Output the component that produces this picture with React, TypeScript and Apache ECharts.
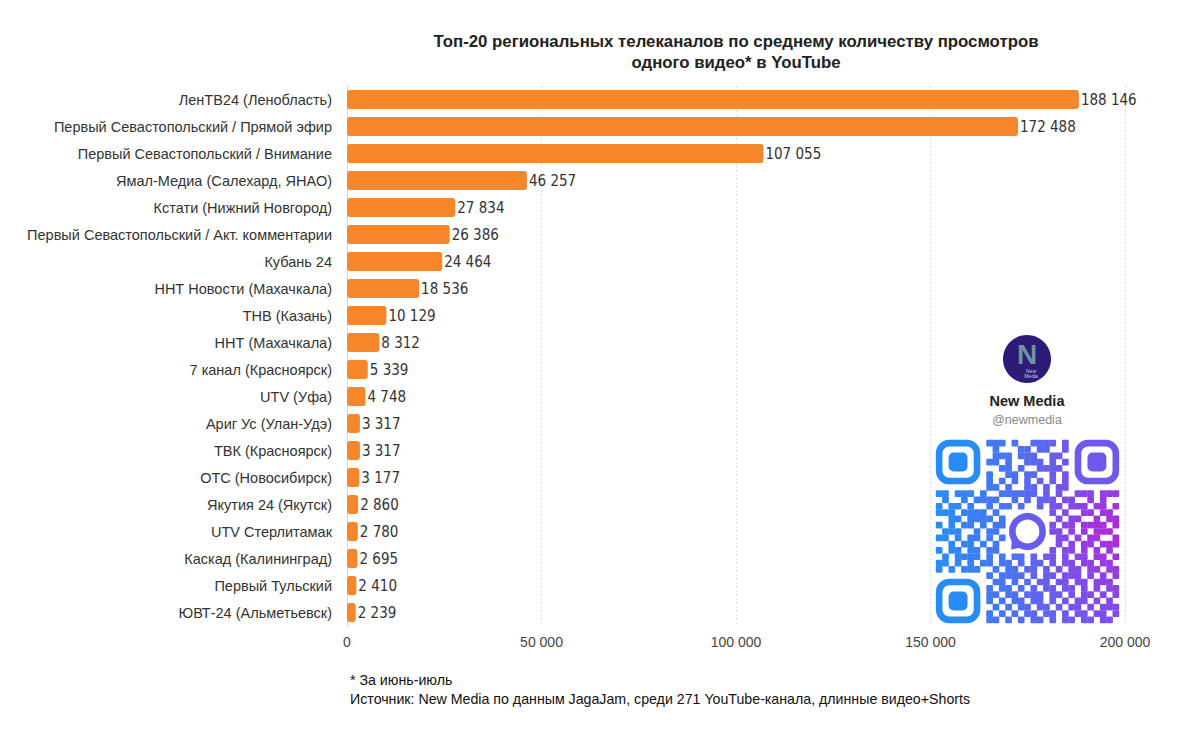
import React, { useEffect, useRef } from "react";
import * as echarts from "echarts";

const categories = [
  "ЛенТВ24 (Ленобласть)",
  "Первый Севастопольский / Прямой эфир",
  "Первый Севастопольский / Внимание",
  "Ямал-Медиа (Салехард, ЯНАО)",
  "Кстати (Нижний Новгород)",
  "Первый Севастопольский / Акт. комментарии",
  "Кубань 24",
  "ННТ Новости (Махачкала)",
  "ТНВ (Казань)",
  "ННТ (Махачкала)",
  "7 канал (Красноярск)",
  "UTV (Уфа)",
  "Ариг Ус (Улан-Удэ)",
  "ТВК (Красноярск)",
  "ОТС (Новосибирск)",
  "Якутия 24 (Якутск)",
  "UTV Стерлитамак",
  "Каскад (Калининград)",
  "Первый Тульский",
  "ЮВТ-24 (Альметьевск)",
];

const views = [
  188146, 172488, 107055, 46257, 27834, 26386, 24464, 18536, 10129, 8312,
  5339, 4748, 3317, 3317, 3177, 2860, 2780, 2695, 2410, 2239,
];

const axisMin = 0;
const axisMax = 200000;
const axisStep = 50000;

const titleLines = [
  "Топ-20 региональных телеканалов по среднему количеству просмотров",
  "одного видео* в YouTube",
];
const footnote = "* За июнь-июль";
const sourceNote =
  "Источник: New Media по данным JagaJam, среди 271 YouTube-канала, длинные видео+Shorts";

// decorative QR-like texture (hand-drawn pattern)
const qrRows = [
  "11110100111010011110110100101",
  "01101111010001101100101011010",
  "10111001011101110011011100110",
  "01001101110100111010100101101",
  "11100111001101001111011010011",
  "01011011100110110010110101100",
  "10101010101010101010101010101",
  "00110110110100110101101100010",
  "11011101001111110101001110111",
  "01001011110010101110110010100",
  "10110100101101001011011101101",
  "11101111010011010110100110110",
  "00110111101100101101011001011",
  "10101101011010110010110111101",
  "01110010110101011011010101110",
  "11010110101101010101101011001",
  "00101101010110101101010110111",
  "10110110110101101010110101010",
  "01011110101011010110101101101",
  "11010101101101011010110110110",
  "10101110010110110101011011011",
  "01101001101111010110111010101",
  "00110101011010101101101101110",
  "10101101101101010110110101011",
  "01011010110110111011010110101",
  "11010110101011011010101101010",
  "00101011010101101101011010111",
  "10110101101010110110101101101",
  "01101010110101011010110110110",
];

const fmt = (n: number) => String(n).replace(/\B(?=(\d{3})+(?!\d))/g, " ");

function mix(a: number[], b: number[], t: number) {
  return a.map((v, i) => Math.round(v + (b[i] - v) * t));
}
function qrColor(u: number, v: number) {
  const blue = [40, 140, 246];
  const violet = [118, 84, 236];
  const magenta = [178, 40, 218];
  let c = mix(blue, violet, Math.min(1, u * 1.1));
  const m = Math.max(0, u - 0.45) * 1.8 * Math.max(0, 1 - Math.abs(v - 0.5) * 1.8);
  c = mix(c, magenta, Math.min(1, m));
  return `rgb(${c[0]},${c[1]},${c[2]})`;
}

function buildQr() {
  const N = 29;
  const x0 = 936;
  const y0 = 440;
  const m = 183 / N;
  const children: any[] = [];
  const inFinder = (r: number, c: number) =>
    (r < 8 && c < 8) || (r < 8 && c > N - 9) || (r > N - 9 && c < 8);
  const inCenter = (r: number, c: number) => r >= 11 && r <= 17 && c >= 11 && c <= 17;
  for (let r = 0; r < N; r++) {
    const row = qrRows[r] || "";
    for (let c = 0; c < N; c++) {
      if (row[c] !== "1" || inFinder(r, c) || inCenter(r, c)) continue;
      children.push({
        type: "rect",
        shape: { x: x0 + c * m - 0.2, y: y0 + r * m - 0.2, width: m + 0.4, height: m + 0.4, r: 1 },
        style: { fill: qrColor(c / (N - 1), r / (N - 1)) },
        silent: true,
      });
    }
  }
  const finders = [
    [0, 0],
    [0, N - 7],
    [N - 7, 0],
  ];
  finders.forEach(([r, c]) => {
    const col = qrColor(c / (N - 1), r / (N - 1));
    children.push({
      type: "rect",
      shape: { x: x0 + c * m + m / 2, y: y0 + r * m + m / 2, width: 6 * m, height: 6 * m, r: m * 1.6 },
      style: { fill: "none", stroke: col, lineWidth: m * 1.05 },
      silent: true,
    });
    children.push({
      type: "rect",
      shape: { x: x0 + (c + 2) * m, y: y0 + (r + 2) * m, width: 3 * m, height: 3 * m, r: m * 0.8 },
      style: { fill: col },
      silent: true,
    });
  });
  const cx = x0 + 14.5 * m;
  const cy = y0 + 14.5 * m;
  children.push({
    type: "circle",
    shape: { cx, cy, r: 2.4 * m },
    style: { fill: "none", stroke: "rgb(104,92,238)", lineWidth: m * 1.05 },
    silent: true,
  });
  children.push({
    type: "polygon",
    shape: {
      points: [
        [cx - 2.4 * m, cy + 0.6 * m],
        [cx - 2.6 * m, cy + 2.9 * m],
        [cx - 0.6 * m, cy + 2.4 * m],
      ],
    },
    style: { fill: "rgb(104,92,238)" },
    silent: true,
  });
  return children;
}

export default function App() {
  const ref = useRef<HTMLDivElement>(null);

  useEffect(() => {
    document.body.style.margin = "0";
    if (!ref.current) return;
    const chart = echarts.init(ref.current, undefined, { renderer: "svg" });
    const baseFont = "'Liberation Sans', Arial, Helvetica, sans-serif";
    const narrowFont = "'Liberation Sans Narrow', 'DejaVu Sans Condensed', 'Liberation Sans', sans-serif";

    chart.setOption({
      animation: false,
      backgroundColor: "#ffffff",
      grid: { left: 347, right: 75, top: 86, bottom: 122, containLabel: false },
      xAxis: {
        type: "value",
        min: axisMin,
        max: axisMax,
        interval: axisStep,
        axisLine: { show: false },
        axisTick: { show: false },
        splitLine: { show: true, lineStyle: { color: "#dedede", type: [2, 2], width: 1 } },
        axisLabel: {
          formatter: (v: number) => fmt(v),
          color: "#444",
          fontSize: 14,
          fontFamily: baseFont,
          margin: 9,
        },
      },
      yAxis: {
        type: "category",
        data: categories,
        inverse: true,
        axisLine: { show: true, lineStyle: { color: "#d4d4d4", width: 1 } },
        axisTick: { show: false },
        axisLabel: {
          color: "#333",
          fontSize: 14.5,
          fontFamily: baseFont,
          margin: 15,
        },
      },
      series: [
        {
          type: "bar",
          data: views,
          barCategoryGap: "29%",
          itemStyle: { color: "#F7862B", borderRadius: 3 },
          label: {
            show: true,
            position: "right",
            distance: 2,
            formatter: (p: any) => fmt(p.value),
            fontSize: 15,
            fontFamily: narrowFont,
            color: "#333",
          },
        },
      ],
      graphic: [
        {
          type: "text",
          x: 736,
          y: 52,
          style: {
            text: titleLines.join("\n"),
            fontSize: 16.8,
            fontWeight: "bold",
            fontFamily: baseFont,
            fill: "#222",
            textAlign: "center",
            textVerticalAlign: "middle",
            lineHeight: 21,
          },
        },
        {
          type: "text",
          x: 350,
          y: 680,
          style: {
            text: footnote,
            fontSize: 14.2,
            fontFamily: baseFont,
            fill: "#111",
            textVerticalAlign: "middle",
          },
        },
        {
          type: "text",
          x: 350,
          y: 699,
          style: {
            text: sourceNote,
            fontSize: 14.2,
            fontFamily: baseFont,
            fill: "#111",
            textVerticalAlign: "middle",
          },
        },
        {
          type: "circle",
          shape: { cx: 1027, cy: 359, r: 24 },
          style: { fill: "#2D1B77" },
          silent: true,
        },
        {
          type: "text",
          x: 1027,
          y: 354,
          style: {
            text: "N",
            fontSize: 28,
            fontWeight: "bold",
            fontFamily: baseFont,
            fill: "#6E93A3",
            textAlign: "center",
            textVerticalAlign: "middle",
          },
          silent: true,
        },
        {
          type: "text",
          x: 1031,
          y: 373,
          style: {
            text: "New\nMedia",
            fontSize: 5,
            fontFamily: baseFont,
            fill: "#c8c8e0",
            textAlign: "center",
            textVerticalAlign: "middle",
            lineHeight: 5,
          },
          silent: true,
        },
        {
          type: "text",
          x: 1027,
          y: 401,
          style: {
            text: "New Media",
            fontSize: 14.5,
            fontWeight: "bold",
            fontFamily: baseFont,
            fill: "#222",
            textAlign: "center",
            textVerticalAlign: "middle",
          },
        },
        {
          type: "text",
          x: 1027,
          y: 420,
          style: {
            text: "@newmedia",
            fontSize: 12.5,
            fontFamily: baseFont,
            fill: "#888",
            textAlign: "center",
            textVerticalAlign: "middle",
          },
        },
        {
          type: "group",
          children: buildQr(),
        },
      ],
    });

    return () => {
      chart.dispose();
    };
  }, []);

  return <div ref={ref} style={{ width: 1200, height: 748 }} />;
}
